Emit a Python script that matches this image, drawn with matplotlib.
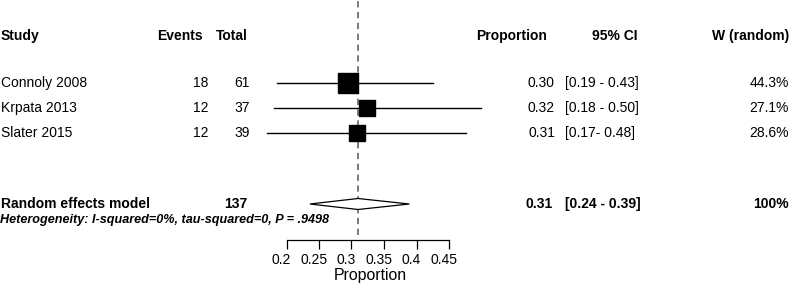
import matplotlib.pyplot as plt
import matplotlib.transforms as mtransforms
import numpy as np

plt.rcParams["font.family"] = ["Liberation Sans", "DejaVu Sans"]

# study data
studies = ["Connoly 2008", "Krpata 2013", "Slater 2015"]
events = [18, 12, 12]
totals = [61, 37, 39]
props = [0.295, 0.324, 0.308]
ci_lo = [0.186, 0.180, 0.170]
ci_hi = [0.426, 0.499, 0.476]
weights = [44.3, 27.1, 28.6]
prop_labels = ["0.30", "0.32", "0.31"]
ci_labels = ["[0.19 - 0.43]", "[0.18 - 0.50]", "[0.17- 0.48]"]
weight_labels = ["44.3%", "27.1%", "28.6%"]

# pooled estimate
pooled_total = 137
pooled_est = 0.31
pooled_lo = 0.236
pooled_hi = 0.389
pooled_label = "0.31"
pooled_ci_label = "[0.24 - 0.39]"
pooled_weight_label = "100%"
het_text = "Heterogeneity: I-squared=0%, tau-squared=0, P = .9498"

xticks = [0.2, 0.25, 0.3, 0.35, 0.4, 0.45]
xticklabels = ["0.2", "0.25", "0.3", "0.35", "0.4", "0.45"]

W, H = 793, 292
fig = plt.figure(figsize=(W / 100, H / 100), dpi=100)

# forest axes: spans px 260..500 horizontally, 0..240 vertically
ax = fig.add_axes([260 / W, (H - 240) / H, 240 / W, 240 / H])
ax.set_xlim(0.2 - 26.5 / 650, 0.2 + 213.5 / 650)
ax.set_ylim(6.28, -3.32)

rows = np.arange(len(studies))
header_y = -1.88
pooled_y = 4.84
het_y = 5.48

# reference line
ax.axvline(pooled_est, ymin=0.02, ymax=1, color="#707070", lw=1.3,
           ls=(0, (3.5, 2.5)), zorder=1)

# CI lines and squares
for i in rows:
    ax.plot([ci_lo[i], ci_hi[i]], [i, i], color="black", lw=1, zorder=2)
    ax.plot(props[i], i, marker="s", color="black",
            ms=2.16 * np.sqrt(weights[i]), zorder=3)

# pooled diamond
dh = 0.22
ax.fill([pooled_lo, pooled_est, pooled_hi, pooled_est],
        [pooled_y, pooled_y - dh, pooled_y, pooled_y + dh],
        facecolor="white", edgecolor="black", lw=0.9, zorder=3)

for s in ["top", "right", "left"]:
    ax.spines[s].set_visible(False)
ax.spines["bottom"].set_bounds(xticks[0], xticks[-1])
ax.spines["bottom"].set_linewidth(0.9)
ax.set_yticks([])
ax.set_xticks(xticks)
ax.set_xticklabels(xticklabels, fontsize=10)
ax.tick_params(axis="x", length=6.5, width=0.9, pad=3)
shift = mtransforms.ScaledTranslation(-0.05, 0, fig.dpi_scale_trans)
for lab in ax.get_xticklabels():
    lab.set_transform(lab.get_transform() + shift)
ax.set_xlabel("Proportion", fontsize=11.4)
ax.xaxis.set_label_coords((370.5 - 260) / 240, -0.146)
ax.xaxis.label.set_va("center")
ax.patch.set_visible(False)

# text columns: x in figure pixels, y in row units
tr = mtransforms.blended_transform_factory(
    mtransforms.Affine2D().scale(1 / W, 1) + fig.transFigure, ax.transData)


def txt(x, y, s, ha="left", **kw):
    fig.text(x, y, s, ha=ha, va="center", transform=tr, fontsize=10, **kw)


# header
txt(1, header_y, "Study", weight="bold")
txt(203, header_y, "Events", ha="right", weight="bold")
txt(248, header_y, "Total", ha="right", weight="bold")
txt(547, header_y, "Proportion", ha="right", weight="bold")
txt(638, header_y, "95% CI", ha="right", weight="bold")
txt(789, header_y, "W (random)", ha="right", weight="bold")

for i in rows:
    txt(1, i, studies[i])
    txt(208, i, str(events[i]), ha="right")
    txt(250, i, str(totals[i]), ha="right")
    txt(555, i, prop_labels[i], ha="right")
    txt(565, i, ci_labels[i])
    txt(789, i, weight_labels[i], ha="right")

txt(1, pooled_y, "Random effects model", weight="bold")
txt(247, pooled_y, str(pooled_total), ha="right", weight="bold")
txt(553, pooled_y, pooled_label, ha="right", weight="bold")
txt(565, pooled_y, pooled_ci_label, weight="bold")
txt(789, pooled_y, pooled_weight_label, ha="right", weight="bold")

fig.text(1 / W, het_y, het_text, ha="left", va="center",
         transform=tr, fontsize=9.1, weight="bold", style="italic")

fig.savefig("out.png", dpi=100)
